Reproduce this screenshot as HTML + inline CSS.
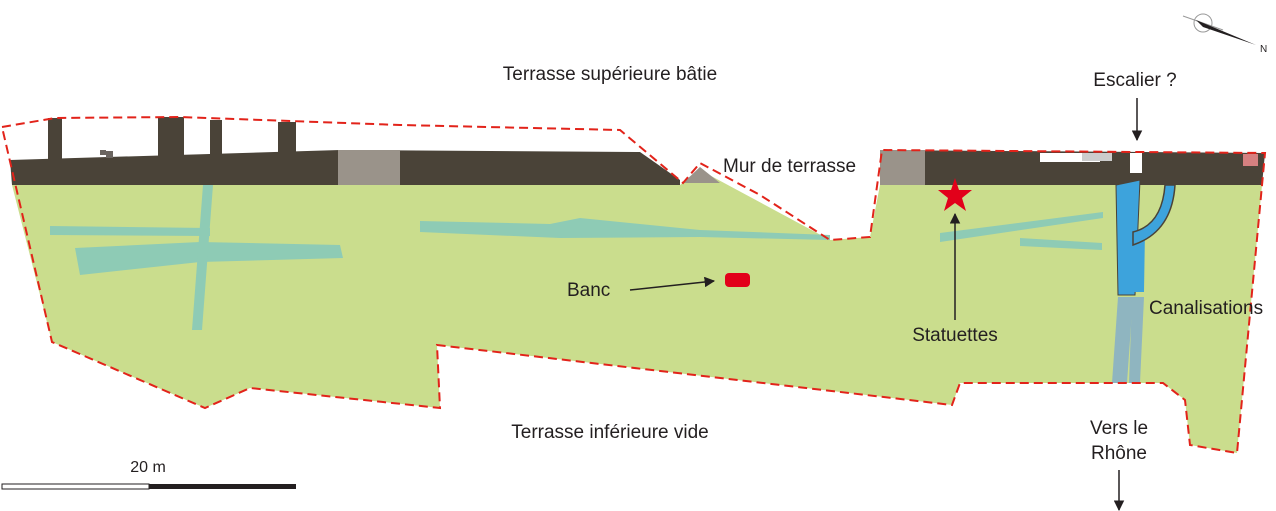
<!DOCTYPE html>
<html><head><meta charset="utf-8"><style>
html,body{margin:0;padding:0;background:#fff;}
svg{display:block;}
text{font-family:"Liberation Sans",sans-serif;fill:#231f20;font-size:19px;}
</style></head><body>
<svg width="1276" height="511" viewBox="0 0 1276 511" xmlns="http://www.w3.org/2000/svg">
<defs>
<marker id="ah" viewBox="0 0 10 10" refX="9" refY="5" markerWidth="7" markerHeight="7" orient="auto"><path d="M0,0L10,5L0,10z" fill="#231f20"/></marker>
</defs>
<path d="M12,185 L680,185 L700,170 L830,240 L870,237 L880,185 L1262,185 L1237,453 L1190,445 L1185,400 L1163,383 L960,383 L952,405 L437,345 L440,408 L250,388 L205,408 L52,342 Z" fill="#cadd8d"/>
<path d="M10,160 L340,150 L640,152 L680,180 L680,185 L12,185 Z" fill="#4a4338"/>
<rect x="48" y="118" width="14" height="45" fill="#4a4338"/>
<rect x="158" y="117" width="26" height="60" fill="#4a4338"/>
<rect x="210" y="120" width="12" height="40" fill="#4a4338"/>
<rect x="278" y="122" width="18" height="40" fill="#4a4338"/>
<rect x="338" y="150" width="62" height="35" fill="#9a938a"/>
<rect x="100" y="150" width="6" height="5" fill="#6b6560"/>
<rect x="106" y="151" width="7" height="7" fill="#6b6560"/>
<path d="M683,183 L700,167 L720,183 Z" fill="#9a938a"/>
<path d="M880,150 L1265,153 L1262,185 L880,185 Z" fill="#4a4338"/>
<rect x="880" y="150" width="45" height="35" fill="#9a938a"/>
<rect x="1040" y="153" width="60" height="9" fill="#fff"/>
<rect x="1082" y="153" width="30" height="8" fill="#ccc"/>
<rect x="1130" y="153" width="12" height="20" fill="#fff"/>
<rect x="1243" y="154" width="15" height="12" fill="#d58080"/>
<g fill="#8ecbb5">
<path d="M50,226 L210,228 L210,236 L50,235 Z"/>
<path d="M75,248 L200,242 L340,245 L343,258 L200,262 L80,275 Z"/>
<path d="M203,185 L213,185 L202,330 L192,330 Z"/>
<path d="M420,221 L550,224 L580,218 L700,230 L830,235 L830,240 L700,237 L560,238 L420,232 Z"/>
<path d="M940,233 L1103,212 L1103,218 L940,242 Z"/>
<path d="M1020,238 L1102,243 L1102,250 L1020,246 Z"/>
</g>
<path d="M1116,185 L1140,180 L1135,295 L1118,295 Z" fill="#3da3dc" stroke="#4a4338" stroke-width="1"/>
<path d="M1130,230 L1145,230 L1144,292 L1130,292 Z" fill="#3da3dc"/>
<path d="M1165,185 Q1162,225 1133,232 L1133,245 Q1172,232 1175,185 Z" fill="#3da3dc" stroke="#4a4338" stroke-width="1.5"/>
<path d="M1118,297 L1133,297 L1127,383 L1112,383 Z" fill="#8fb5c0"/>
<path d="M1132,297 L1144,297 L1140,383 L1129,383 Z" fill="#8fb5c0"/>
<path d="M2,127 L55,118 L180,117 L400,125 L620,130 L683,183 L700,163 L760,195 L830,240 L870,237 L882,150 L1265,153 L1237,453 L1190,445 L1185,400 L1163,383 L960,383 L952,405 L437,345 L440,408 L250,388 L205,408 L52,342 Z" fill="none" stroke="#e2231a" stroke-width="2" stroke-dasharray="9,5"/>
<rect x="725" y="273" width="25" height="14" rx="4" fill="#e2001a"/>
<polygon points="955,178 959,190 972,190 962,198 966,211 955,203 944,211 948,198 938,190 951,190" fill="#e2001a"/>
<line x1="630" y1="290" x2="714" y2="281" stroke="#231f20" stroke-width="1.5" marker-end="url(#ah)"/>
<line x1="955" y1="320" x2="955" y2="214" stroke="#231f20" stroke-width="1.5" marker-end="url(#ah)"/>
<line x1="1137" y1="98" x2="1137" y2="140" stroke="#231f20" stroke-width="1.5" marker-end="url(#ah)"/>
<line x1="1119" y1="470" x2="1119" y2="510" stroke="#231f20" stroke-width="1.5" marker-end="url(#ah)"/>
<text x="610" y="80" text-anchor="middle">Terrasse supérieure bâtie</text>
<text x="723" y="172">Mur de terrasse</text>
<text x="1135" y="86" text-anchor="middle">Escalier ?</text>
<text x="567" y="296">Banc</text>
<text x="955" y="341" text-anchor="middle">Statuettes</text>
<text x="1149" y="314">Canalisations</text>
<text x="610" y="438" text-anchor="middle">Terrasse inférieure vide</text>
<text x="1119" y="434" text-anchor="middle">Vers le</text>
<text x="1119" y="459" text-anchor="middle">Rhône</text>
<text x="148" y="472" text-anchor="middle" style="font-size:16px">20 m</text>
<rect x="2" y="484" width="147" height="5" fill="#fff" stroke="#231f20" stroke-width="1"/>
<rect x="149" y="484" width="147" height="5" fill="#231f20"/>
<circle cx="1203" cy="23" r="9" fill="none" stroke="#999" stroke-width="1"/>
<line x1="1183" y1="16" x2="1223" y2="30" stroke="#999"/>
<polygon points="1196,20 1256,45 1203,27" fill="#231f20"/>
<text x="1260" y="52" style="font-size:10px">N</text>
</svg>
</body></html>
